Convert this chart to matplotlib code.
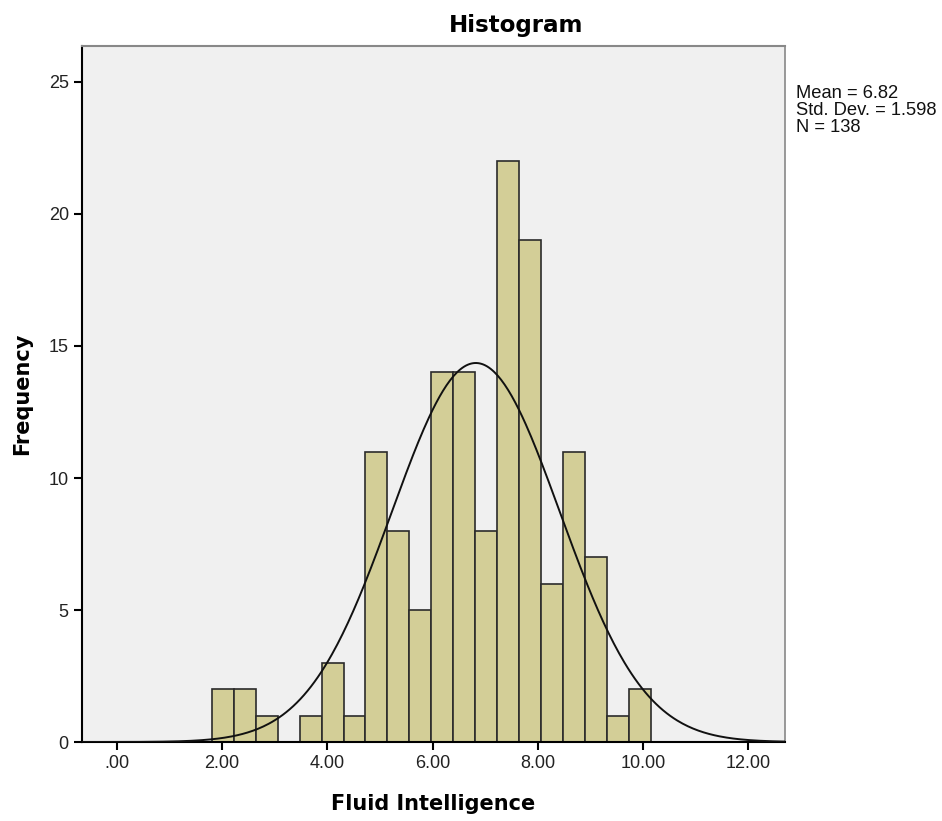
import numpy as np
import matplotlib
matplotlib.use('Agg')
import matplotlib.pyplot as plt

# Histogram data
counts = [2, 2, 1, 0, 1, 3, 1, 11, 8, 5, 14, 14, 8, 22, 19, 6, 11, 7, 1, 2]
first_edge = 1.806
bin_width = 0.4167
mean = 6.82
std_dev = 1.598
n_obs = 138

x_ticks = [0, 2, 4, 6, 8, 10, 12]
x_tick_labels = ['.00', '2.00', '4.00', '6.00', '8.00', '10.00', '12.00']
y_ticks = [0, 5, 10, 15, 20, 25]

fig = plt.figure(figsize=(9.42, 8.21), dpi=100)
ax = fig.add_axes([0.087, 0.0962, 0.746, 0.848])
ax.set_facecolor('#F0F0F0')

lefts = first_edge + bin_width * np.arange(len(counts))
ax.bar(lefts, counts, width=bin_width, align='edge', color='#D3CE97',
       edgecolor='#2b2b2b', linewidth=1.2, zorder=2)

# Normal curve
xs = np.linspace(-0.665, 12.69, 400)
ys = n_obs * bin_width / (std_dev * np.sqrt(2 * np.pi)) * np.exp(-0.5 * ((xs - mean) / std_dev) ** 2)
ax.plot(xs, ys, color='#111111', linewidth=1.4, zorder=3)

ax.set_xlim(-0.665, 12.69)
ax.set_ylim(0, 26.37)
ax.set_xticks(x_ticks)
ax.set_xticklabels(x_tick_labels)
ax.set_yticks(y_ticks)

ax.tick_params(axis='both', direction='out', length=6, width=1.5, colors='black',
               labelsize=13, labelcolor='#222222')
for lab in ax.get_xticklabels() + ax.get_yticklabels():
    lab.set_family('Liberation Sans')

ax.spines['left'].set_color('black')
ax.spines['bottom'].set_color('black')
ax.spines['left'].set_linewidth(1.5)
ax.spines['bottom'].set_linewidth(1.5)
ax.spines['top'].set_color('#888888')
ax.spines['right'].set_color('#888888')
ax.spines['top'].set_linewidth(1.5)
ax.spines['right'].set_linewidth(1.2)

fig.text(0.548, 0.9695, 'Histogram', fontsize=16.6, fontweight='bold', family='DejaVu Sans',
         ha='center', va='center')
ax.set_xlabel('Fluid Intelligence', fontsize=15, fontweight='bold', family='DejaVu Sans', labelpad=16)
ax.set_ylabel('Frequency', fontsize=15, fontweight='bold', family='DejaVu Sans', labelpad=12)

fig.text(0.845, 0.866, 'Mean = 6.82\nStd. Dev. = 1.598\nN = 138', fontsize=13.2,
         family='Liberation Sans', color='#111111', va='center', ha='left', linespacing=1.0)

fig.savefig('out.png', dpi=100)
